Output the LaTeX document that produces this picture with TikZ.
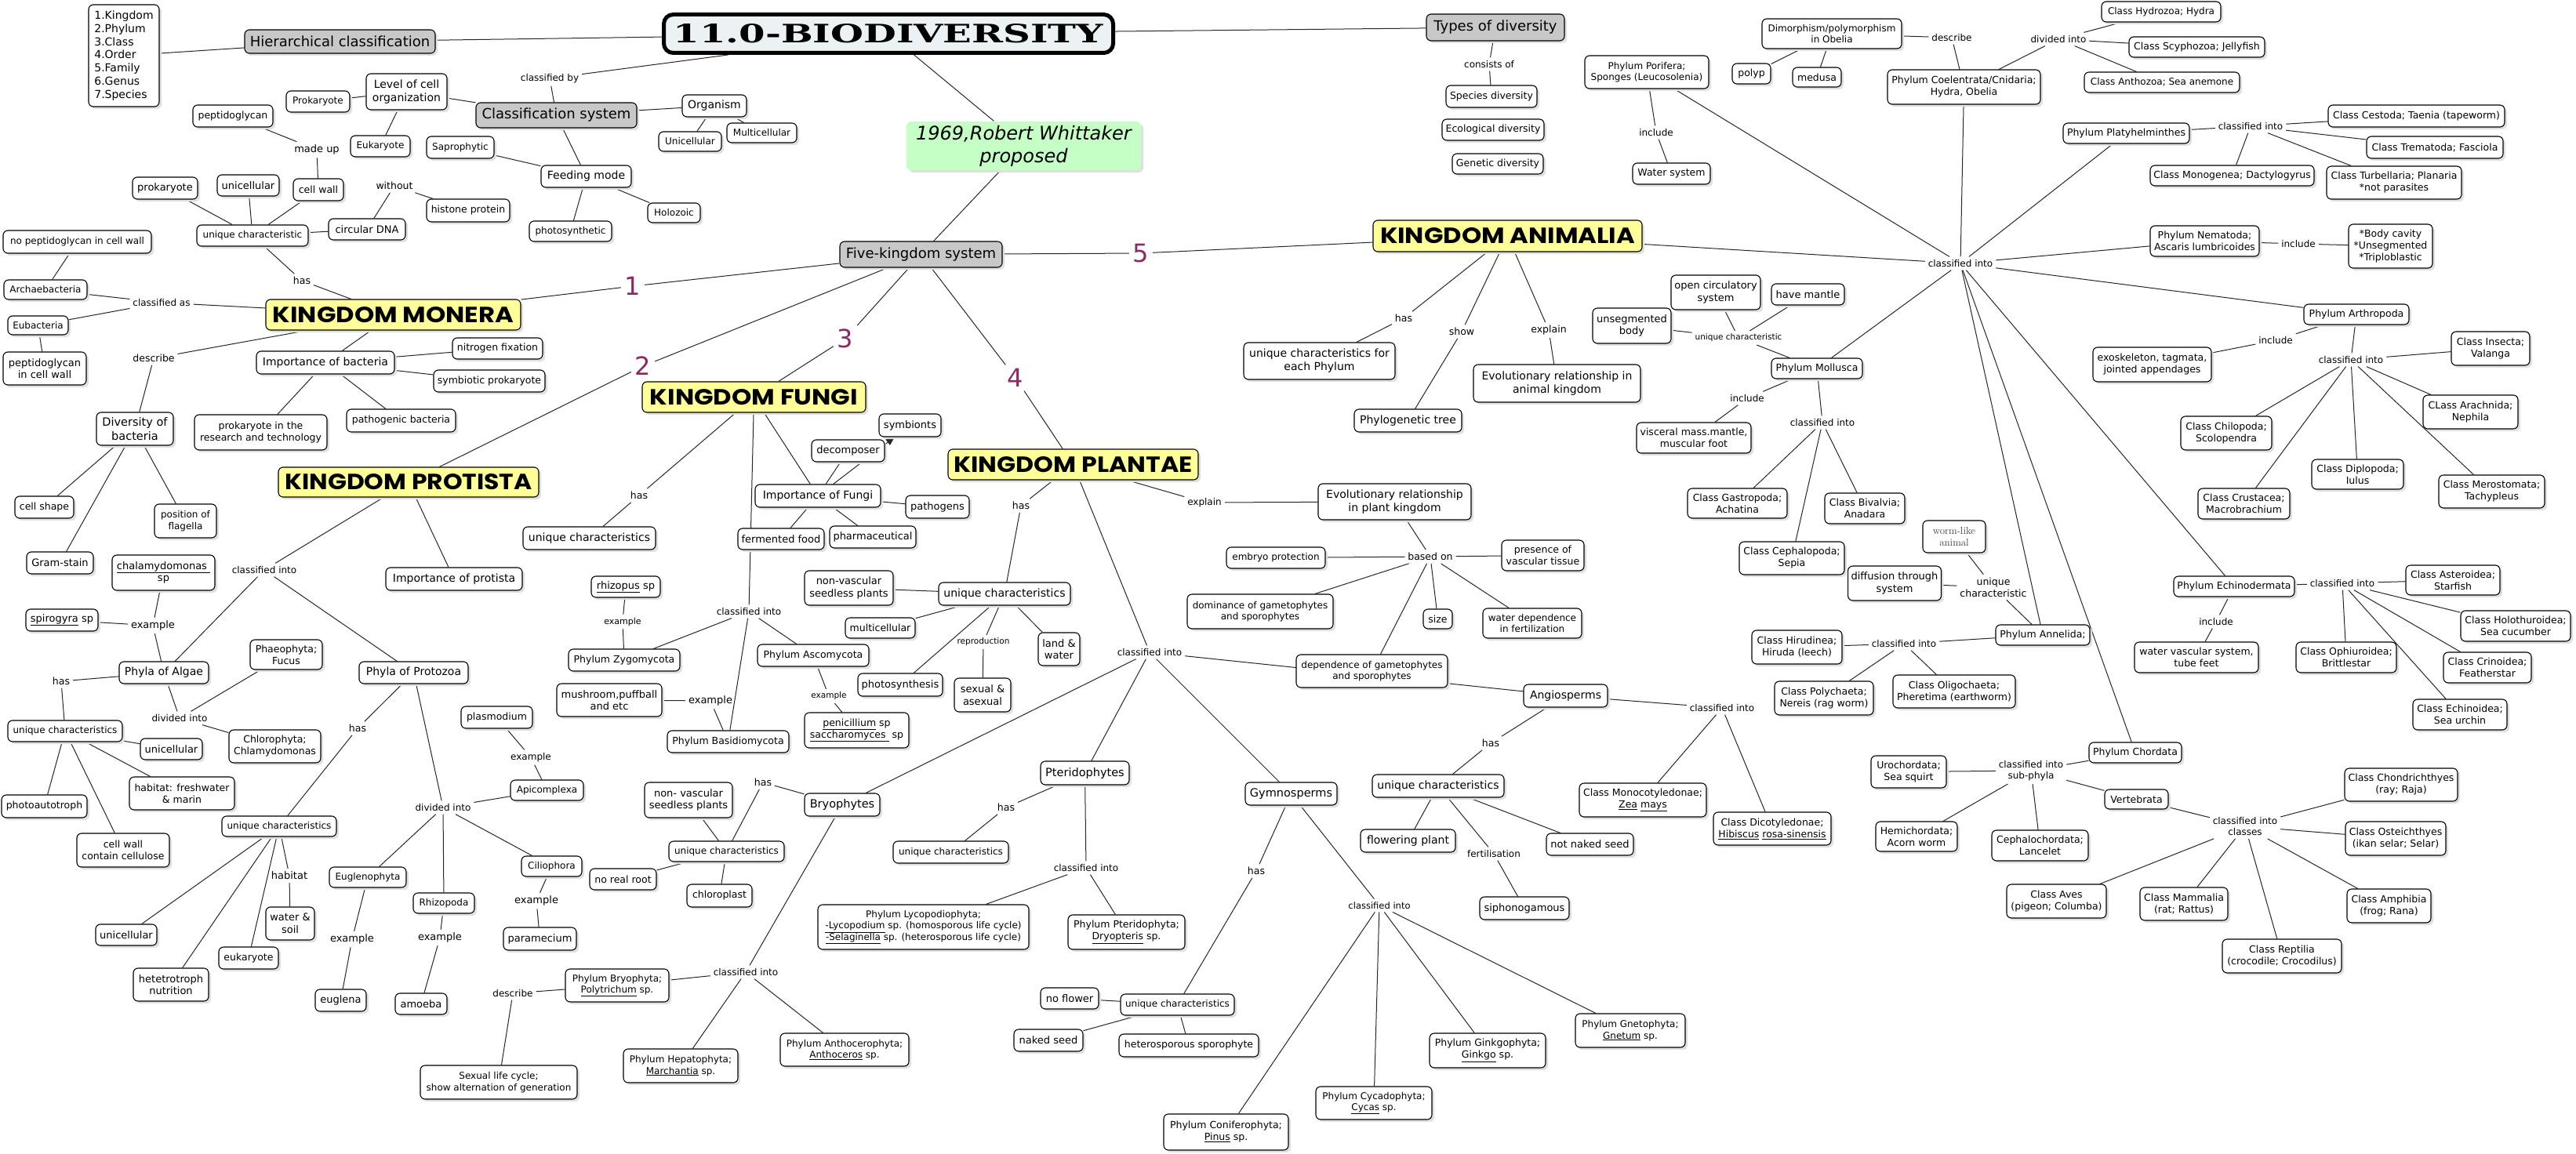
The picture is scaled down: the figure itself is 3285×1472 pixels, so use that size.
\documentclass[tikz,border=0pt]{standalone}
\usepackage{fontspec}
\setmainfont{DejaVu Sans}
\newfontfamily\kfont{Poppins}
\newfontfamily\tfont{DejaVu Serif}
\usetikzlibrary{shadows,backgrounds,arrows.meta}
\definecolor{gbox}{RGB}{200,200,200}
\definecolor{ybox}{RGB}{255,255,153}
\definecolor{grn}{RGB}{198,255,198}
\definecolor{purp}{RGB}{140,40,100}
\definecolor{tbg}{RGB}{236,242,244}
\newcommand\fs[1]{\fontsize{#1}{\fpeval{1.2*#1}}\selectfont}
\newcommand\B[7][]{\node[bx,#1,minimum width={#5-#3},minimum height={#6-#4}] (#2) at ({(#3+#5)/2},{(#4+#6)/2}) {#7};}
\newcommand\Lb[5][]{\node[lb,#1] (#2) at (#3,#4) {#5};}
\newcommand\E[2]{\draw[ed] (#1) -- (#2);}
\tikzset{
 bx/.style={draw=black, line width=1.1pt, rounded corners=6pt, fill=white, align=center, inner xsep=4pt, inner ysep=2pt, font=\fs{13}, drop shadow={shadow xshift=3pt, shadow yshift=-3pt, fill=black!12, opacity=1}},
 lb/.style={inner sep=1pt, outer sep=3pt, align=center, font=\fs{12}},
 ed/.style={draw=black!85, line width=1pt},
 num/.style={text=purp, font=\fs{32}, inner sep=1pt, outer sep=4pt},
 kb/.style={fill=ybox, inner sep=0pt}
}
\begin{document}
\begin{tikzpicture}[x=1pt,y=-1pt]
\useasboundingbox (0,0) rectangle (3285,1472);
% ---------- top ----------
\B[font=\fs{14},align=left]{list}{113}{6}{203}{136}{1.Kingdom\\2.Phylum\\3.Class\\4.Order\\5.Family\\6.Genus\\7.Species}
\B[font=\fs{18},fill=gbox]{hier}{312}{38}{555}{68}{Hierarchical classification}
\node[draw=black, line width=5pt, rounded corners=12pt, fill=tbg, minimum width=573, minimum height=49, inner sep=0pt] (title) at (1133,43) {\resizebox{548pt}{24pt}{\tfont\bfseries 11.0-BIODIVERSITY}};
\B[font=\fs{18},fill=gbox]{types}{1819}{18}{1995}{52}{Types of diversity}
\B[font=\fs{14}]{level}{467}{94}{570}{140}{Level of cell\\organization}
\B[font=\fs{12}]{prokA}{365}{116}{446}{143}{Prokaryote}
\B[font=\fs{12}]{eukA}{447}{173}{523}{200}{Eukaryote}
\B[font=\fs{18},fill=gbox]{clsys}{607}{131}{812}{163}{Classification system}
\B[font=\fs{14}]{organism}{870}{121}{952}{149}{Organism}
\B[font=\fs{12}]{unicA}{840}{168}{920}{193}{Unicellular}
\B[font=\fs{12}]{multA}{927}{157}{1016}{182}{Multicellular}
\B[font=\fs{12}]{sapro}{544}{174}{630}{202}{Saprophytic}
\B[font=\fs{14}]{feeding}{690}{211}{805}{239}{Feeding mode}
\B[font=\fs{12}]{photo}{675}{282}{780}{308}{photosynthetic}
\B[font=\fs{12}]{holo}{826}{259}{893}{284}{Holozoic}
\B[fill=grn,draw=none,font=\fs{24}\itshape,inner sep=1pt]{green}{1156}{155}{1455}{217}{1969,Robert Whittaker\\proposed}
\B[font=\fs{18},fill=gbox]{fivek}{1071}{308}{1278}{341}{Five-kingdom system}
\Lb{lClBy}{701}{100}{classified by}
\B[font=\fs{12.5}]{species}{1844}{109}{1960}{137}{Species diversity}
\B[font=\fs{12.5}]{ecol}{1839}{152}{1969}{179}{Ecological diversity}
\B[font=\fs{12.5}]{genet}{1852}{196}{1968}{222}{Genetic diversity}
\Lb{lCons}{1899}{82}{consists of}
% ---------- monera ----------
\B[font=\fs{12.5}]{pept}{246}{134}{348}{162}{peptidoglycan}
\Lb[font=\fs{13}]{lMade}{404}{191}{made up}
\B[font=\fs{13}]{prokM}{169}{226}{252}{254}{prokaryote}
\B[font=\fs{13}]{unicM}{277}{223}{356}{250}{unicellular}
\B[font=\fs{12.5}]{cwall}{374}{228}{438}{256}{cell wall}
\B[font=\fs{12}]{uniqM}{251}{287}{393}{314}{unique characteristic}
\B[font=\fs{13}]{circ}{419}{279}{517}{306}{circular DNA}
\Lb[font=\fs{12.5}]{lWith}{503}{237}{without}
\B[font=\fs{12.5}]{histone}{544}{254}{650}{283}{histone protein}
\Lb[font=\fs{12.5}]{lHasM}{385}{358}{has}
\B[kb]{monera}{339}{382}{664}{421}{\resizebox{307pt}{20pt}{\kfont\bfseries KINGDOM MONERA}}
\B[font=\fs{12}]{nopept}{4}{294}{193}{323}{no peptidoglycan in cell wall}
\B[font=\fs{12}]{archae}{5}{357}{111}{382}{Archaebacteria}
\B[font=\fs{12}]{eubac}{10}{403}{87}{427}{Eubacteria}
\B[font=\fs{13}]{peptin}{4}{449}{110}{491}{peptidoglycan\\in cell wall}
\Lb{lClAs}{206}{386}{classified as}
\Lb[font=\fs{12.5}]{lDescM}{196}{457}{describe}
\B[font=\fs{14}]{impb}{327}{448}{503}{477}{Importance of bacteria}
\B[font=\fs{12.5}]{nitro}{577}{431}{692}{458}{nitrogen fixation}
\B[font=\fs{12.5}]{symb}{553}{472}{695}{500}{symbiotic prokaryote}
\B[font=\fs{14.5}]{divb}{123}{526}{221}{568}{Diversity of\\bacteria}
\B[font=\fs{12.5}]{prokres}{248}{529}{417}{574}{prokaryote in the\\research and technology}
\B[font=\fs{12.5}]{pathb}{442}{522}{581}{551}{pathogenic bacteria}
\B[font=\fs{12.5}]{cshape}{19}{633}{94}{661}{cell shape}
\B[font=\fs{12}]{posfl}{197}{643}{276}{686}{position of\\flagella}
\B[font=\fs{13}]{gram}{34}{704}{119}{732}{Gram-stain}
\node[num] (n1) at (807,365) {1};
\node[num] (n2) at (820,467) {2};
\node[num] (n3) at (1078,432) {3};
\node[num] (n4) at (1295,482) {4};
\node[num] (n5) at (1455,323) {5};
% ---------- protista ----------
\B[kb]{protista}{355}{596}{687}{634}{\resizebox{315pt}{20pt}{\kfont\bfseries KINGDOM PROTISTA}}
\Lb{lClP}{337}{727}{classified into}
\B[font=\fs{14}]{impp}{492}{724}{666}{753}{Importance of protista}
\B[font=\fs{13}]{chlamy}{143}{708}{274}{753}{\underline{chalamydomonas }\\sp}
\B[font=\fs{13}]{spiro}{33}{777}{125}{805}{\underline{spirogyra} sp}
\Lb[font=\fs{13}]{lExA}{195}{798}{example}
\B[font=\fs{14}]{algae}{152}{844}{266}{872}{Phyla of Algae}
\B[font=\fs{14}]{protoz}{458}{844}{597}{872}{Phyla of Protozoa}
\B[font=\fs{12.5}]{phaeo}{319}{816}{411}{854}{Phaeophyta;\\Fucus}
\B[font=\fs{12.5}]{chloro}{292}{931}{409}{973}{Chlorophyta;\\Chlamydomonas}
\Lb[font=\fs{12.5}]{lHasA}{78}{869}{has}
\Lb{lDivA}{229}{916}{divided into}
\B[font=\fs{12}]{uniqA}{10}{919}{156}{946}{unique characteristics}
\B[font=\fs{13}]{unicAl}{179}{942}{258}{969}{unicellular}
\B[font=\fs{12.5}]{pauto}{2}{1014}{111}{1043}{photoautotroph}
\B[font=\fs{12.5}]{cellcel}{98}{1063}{216}{1106}{cell wall\\contain cellulose}
\B[font=\fs{12.5}]{habfw}{165}{991}{299}{1033}{habitat: freshwater\\\& marin}
\Lb[font=\fs{12.5}]{lHasPz}{456}{929}{has}
\B[font=\fs{12}]{uniqP}{283}{1041}{429}{1067}{unique characteristics}
\B[font=\fs{13}]{unicP}{122}{1179}{200}{1206}{unicellular}
\B[font=\fs{13}]{hetero}{170}{1235}{266}{1277}{hetetrotroph\\nutrition}
\B[font=\fs{12.5}]{eukP}{279}{1208}{355}{1236}{eukaryote}
\Lb[font=\fs{13}]{lHab}{369}{1117}{habitat}
\B[font=\fs{13}]{wsoil}{339}{1157}{401}{1199}{water \&\\soil}
\Lb{lDivPz}{565}{1030}{divided into}
\B[font=\fs{12}]{apic}{651}{995}{744}{1021}{Apicomplexa}
\B[font=\fs{12.5}]{plasmo}{588}{901}{679}{929}{plasmodium}
\Lb{lExPl}{677}{966}{example}
\B[font=\fs{12}]{eugleno}{420}{1106}{518}{1132}{Euglenophyta}
\Lb[font=\fs{13}]{lExEu}{449}{1198}{example}
\B[font=\fs{13}]{euglena}{402}{1262}{467}{1290}{euglena}
\B[font=\fs{12}]{rhizo}{527}{1139}{605}{1165}{Rhizopoda}
\Lb[font=\fs{13}]{lExAm}{561}{1196}{example}
\B[font=\fs{13}]{amoeba}{504}{1267}{570}{1294}{amoeba}
\B[font=\fs{12}]{cilio}{665}{1092}{742}{1118}{Ciliophora}
\Lb[font=\fs{13}]{lExPa}{684}{1149}{example}
\B[font=\fs{13}]{param}{642}{1183}{735}{1212}{paramecium}
% ---------- fungi ----------
\B[kb]{fungi}{819}{487}{1104}{526}{\resizebox{265pt}{20pt}{\kfont\bfseries KINGDOM FUNGI}}
\Lb[font=\fs{12.5}]{lHasF}{815}{632}{has}
\B[font=\fs{14}]{uniqF}{667}{672}{836}{701}{unique characteristics}
\B[font=\fs{14}]{impf}{963}{618}{1123}{647}{Importance of Fungi}
\B[font=\fs{13}]{decomp}{1035}{561}{1128}{589}{decomposer}
\B[font=\fs{13}]{symbio}{1121}{528}{1200}{557}{symbionts}
\B[font=\fs{13}]{pathog}{1155}{632}{1236}{661}{pathogens}
\B[font=\fs{13}]{pharma}{1058}{671}{1168}{699}{pharmaceutical}
\B[font=\fs{13}]{ferm}{941}{674}{1051}{701}{fermented food}
\Lb{lClF}{955}{780}{classified into}
\B[font=\fs{13}]{rhizop}{754}{735}{842}{762}{\underline{rhizopus} sp}
\Lb[font=\fs{11}]{lExZy}{794}{793}{example}
\B[font=\fs{12.5}]{zygo}{725}{828}{867}{856}{Phylum Zygomycota}
\B[font=\fs{13}]{mush}{710}{872}{844}{914}{mushroom,puffball\\and etc}
\Lb[font=\fs{13}]{lExBa}{906}{894}{example}
\B[font=\fs{12.5}]{basid}{851}{932}{1006}{960}{Phylum Basidiomycota}
\B[font=\fs{12.5}]{asco}{966}{822}{1108}{850}{Phylum Ascomycota}
\Lb[font=\fs{10.5}]{lExAs}{1057}{888}{example}
\B[font=\fs{12.5}]{penic}{1026}{909}{1159}{954}{\underline{penicillium} sp\\\underline{saccharomyces } sp}
% ---------- plantae ----------
\B[kb]{plantae}{1209}{573}{1528}{612}{\resizebox{304pt}{20pt}{\kfont\bfseries KINGDOM PLANTAE}}
\Lb[font=\fs{12.5}]{lHasPl}{1302}{645}{has}
\B[font=\fs{14}]{uniqPl}{1197}{743}{1365}{772}{unique characteristics}
\B[font=\fs{13}]{nvPl}{1026}{728}{1139}{772}{non-vascular\\seedless plants}
\B[font=\fs{12.5}]{multPl}{1078}{788}{1167}{814}{multicellular}
\B[font=\fs{13}]{photPl}{1094}{859}{1202}{888}{photosynthesis}
\Lb[font=\fs{10.5}]{lRepro}{1254}{819}{reproduction}
\B[font=\fs{13}]{sexual}{1217}{865}{1289}{908}{sexual \&\\asexual}
\B[font=\fs{13}]{landw}{1324}{807}{1377}{849}{land \&\\water}
\Lb{lExplPl}{1536}{641}{explain}
\B[font=\fs{14}]{evolPl}{1681}{617}{1876}{663}{Evolutionary relationship\\in plant kingdom}
\Lb[font=\fs{12.5}]{lBased}{1824}{710}{based on}
\B[font=\fs{12}]{embryo}{1564}{698}{1690}{725}{embryo protection}
\B[font=\fs{12.5}]{presence}{1915}{689}{2020}{728}{presence of\\vascular tissue}
\B[font=\fs{12}]{dominance}{1514}{758}{1700}{802}{dominance of gametophytes\\and sporophytes}
\B[font=\fs{12.5}]{size}{1815}{777}{1852}{802}{size}
\B[font=\fs{12}]{waterdep}{1891}{776}{2017}{814}{water dependence\\in fertilization}
\B[font=\fs{12}]{depend}{1653}{835}{1846}{877}{dependence of gametophytes\\and sporophytes}
\Lb{lClPl}{1466}{832}{classified into}
\B[font=\fs{14}]{angio}{1943}{873}{2050}{902}{Angiosperms}
\Lb{lClAn}{2196}{903}{classified into}
\B[font=\fs{12.5}]{monocot}{2014}{999}{2176}{1042}{Class Monocotyledonae;\\\underline{Zea} \underline{mays}}
\B[font=\fs{12.5}]{dicot}{2185}{1036}{2335}{1078}{Class Dicotyledonae;\\\underline{Hibiscus} \underline{rosa-sinensis}}
\Lb[font=\fs{12.5}]{lHasAn}{1901}{948}{has}
\B[font=\fs{14}]{uniqAn}{1750}{988}{1918}{1017}{unique characteristics}
\B[font=\fs{14}]{flower}{1735}{1058}{1856}{1087}{flowering plant}
\Lb{lFert}{1905}{1089}{fertilisation}
\B[font=\fs{13}]{notnaked}{1972}{1063}{2083}{1091}{not naked seed}
\B[font=\fs{13}]{siphono}{1887}{1144}{2001}{1173}{siphonogamous}
\B[font=\fs{14.5}]{bryo}{1026}{1012}{1122}{1041}{Bryophytes}
\B[font=\fs{14.5}]{pterid}{1327}{971}{1440}{1001}{Pteridophytes}
\B[font=\fs{14.5}]{gymno}{1588}{998}{1705}{1027}{Gymnosperms}
\Lb[font=\fs{12.5}]{lHasB}{973}{998}{has}
\B[font=\fs{13}]{nvB}{822}{998}{934}{1043}{non- vascular\\seedless plants}
\B[font=\fs{12}]{uniqB}{853}{1073}{1000}{1099}{unique characteristics}
\B[font=\fs{12.5}]{noroot}{752}{1108}{837}{1135}{no real root}
\B[font=\fs{12.5}]{chlpl}{876}{1128}{959}{1157}{chloroplast}
\Lb{lClB}{951}{1240}{classified into}
\B[font=\fs{12}]{bryoph}{721}{1236}{853}{1278}{Phylum Bryophyta;\\\underline{Polytrichum} sp.}
\Lb{lDescB}{654}{1267}{describe}
\B[font=\fs{12}]{sexlife}{536}{1359}{736}{1402}{Sexual life cycle;\\show alternation of generation}
\B[font=\fs{12}]{hepato}{795}{1338}{941}{1381}{Phylum Hepatophyta;\\\underline{Marchantia} sp.}
\B[font=\fs{12}]{anthoc}{995}{1318}{1159}{1360}{Phylum Anthocerophyta;\\\underline{Anthoceros} sp.}
\Lb[font=\fs{12.5}]{lHasPt}{1283}{1030}{has}
\B[font=\fs{12}]{uniqPt}{1139}{1073}{1286}{1101}{unique characteristics}
\Lb{lClPt}{1385}{1107}{classified into}
\B[font=\fs{12}]{lyco}{1043}{1154}{1312}{1211}{Phylum Lycopodiophyta;\\\underline{-Lycopodium} sp. (homosporous life cycle)\\\underline{-Selaginella} sp. (heterosporous life cycle)}
\B[font=\fs{12.5}]{pterida}{1362}{1167}{1511}{1211}{Phylum Pteridophyta;\\\underline{Dryopteris} sp.}
\Lb[font=\fs{12.5}]{lHasGy}{1602}{1111}{has}
\B[font=\fs{12}]{uniqG}{1429}{1268}{1574}{1295}{unique characteristics}
\B[font=\fs{13}]{noflower}{1327}{1260}{1401}{1287}{no flower}
\B[font=\fs{13}]{nakedseed}{1293}{1313}{1381}{1341}{naked seed}
\B[font=\fs{12.5}]{heterosp}{1427}{1319}{1605}{1348}{heterosporous sporophyte}
\Lb[font=\fs{11.5}]{lClGy}{1759}{1155}{classified into}
\B[font=\fs{12.5}]{conifer}{1484}{1421}{1643}{1467}{Phylum Coniferophyta;\\\underline{Pinus} sp.}
\B[font=\fs{12}]{cycad}{1678}{1386}{1826}{1428}{Phylum Cycadophyta;\\\underline{Cycas} sp.}
\B[font=\fs{12.5}]{ginkgo}{1823}{1318}{1971}{1362}{Phylum Ginkgophyta;\\\underline{Ginkgo} sp.}
\B[font=\fs{12}]{gneto}{2009}{1293}{2149}{1336}{Phylum Gnetophyta;\\\underline{Gnetum} sp.}
% ---------- animalia ----------
\B[kb]{animalia}{1751}{281}{2094}{321}{\resizebox{325pt}{20pt}{\kfont\bfseries KINGDOM ANIMALIA}}
\Lb[font=\fs{12.5}]{lHasAni}{1790}{406}{has}
\Lb[font=\fs{12.5}]{lShow}{1864}{423}{show}
\Lb[font=\fs{12.5}]{lExplAn}{1975}{421}{explain}
\B[font=\fs{14}]{uniqEach}{1586}{437}{1779}{484}{unique characteristics for\\each Phylum}
\B[font=\fs{14}]{phylo}{1727}{522}{1864}{551}{Phylogenetic tree}
\B[font=\fs{14}]{evolAn}{1879}{465}{2092}{513}{Evolutionary relationship in\\animal kingdom}
\Lb{lHub}{2500}{336}{classified into}
\B[font=\fs{12}]{porif}{2021}{71}{2179}{113}{Phylum Porifera;\\Sponges (Leucosolenia)}
\Lb{lIncPo}{2112}{169}{include}
\B[font=\fs{12.5}]{wsys}{2082}{208}{2181}{235}{Water system}
\B[font=\fs{12}]{dimorph}{2247}{24}{2425}{62}{Dimorphism/polymorphism\\in Obelia}
\B[font=\fs{12.5}]{polyp}{2209}{81}{2258}{107}{polyp}
\B[font=\fs{12.5}]{medusa}{2286}{86}{2348}{111}{medusa}
\Lb{lDescAn}{2489}{48}{describe}
\B[font=\fs{12.5}]{coel}{2407}{89}{2602}{133}{Phylum Coelentrata/Cnidaria;\\Hydra, Obelia}
\Lb{lDivAn}{2625}{50}{divided into}
\B[font=\fs{12}]{hydro}{2680}{2}{2832}{28}{Class Hydrozoa; Hydra}
\B[font=\fs{12.5}]{scypho}{2715}{47}{2888}{73}{Class Scyphozoa; Jellyfish}
\B[font=\fs{12}]{anthoz}{2658}{92}{2856}{118}{Class Anthozoa; Sea anemone}
\B[font=\fs{12.5}]{platy}{2631}{157}{2792}{183}{Phylum Platyhelminthes}
\Lb{lClPlaty}{2870}{161}{classified into}
\B[font=\fs{12.5}]{cestoda}{2969}{134}{3194}{162}{Class Cestoda; Taenia (tapeworm)}
\B[font=\fs{12.5}]{trema}{3018}{174}{3192}{202}{Class Trematoda; Fasciola}
\B[font=\fs{12.5}]{monog}{2742}{211}{2951}{237}{Class Monogenea; Dactylogyrus}
\B[font=\fs{12.5}]{turb}{2967}{212}{3139}{254}{Class Turbellaria; Planaria\\*not parasites}
\B[font=\fs{12.5}]{nema}{2742}{288}{2881}{327}{Phylum Nematoda;\\Ascaris lumbricoides}
\Lb{lIncNe}{2931}{311}{include}
\B[font=\fs{12.5}]{body}{2995}{286}{3102}{342}{*Body cavity\\*Unsegmented\\*Triploblastic}
\B[font=\fs{12.5}]{arthro}{2938}{388}{3072}{414}{Phylum Arthropoda}
\Lb{lIncAr}{2902}{434}{include}
\B[font=\fs{12.5}]{exo}{2669}{443}{2820}{487}{exoskeleton, tagmata,\\jointed appendages}
\Lb{lClAr}{2998}{459}{classified into}
\B[font=\fs{12.5}]{insecta}{3126}{423}{3226}{466}{Class Insecta;\\Valanga}
\B[font=\fs{12.5}]{chilo}{2781}{531}{2897}{574}{Class Chilopoda;\\Scolopendra}
\B[font=\fs{12.5}]{arach}{3090}{504}{3211}{547}{CLass Arachnida;\\Nephila}
\B[font=\fs{12.5}]{diplo}{2948}{586}{3065}{624}{Class Diplopoda;\\Iulus}
\B[font=\fs{12.5}]{crust}{2803}{623}{2920}{662}{Class Crustacea;\\Macrobrachium}
\B[font=\fs{12.5}]{mero}{3110}{606}{3245}{648}{Class Merostomata;\\Tachypleus}
\B[font=\fs{13}]{unseg}{2031}{393}{2131}{438}{unsegmented\\body}
\B[font=\fs{13}]{openc}{2131}{351}{2245}{395}{open circulatory\\system}
\B[font=\fs{13}]{mantle}{2259}{362}{2352}{389}{have mantle}
\Lb[font=\fs{10.5}]{lUniqMo}{2217}{431}{unique characteristic}
\B[font=\fs{12.5}]{mollusca}{2259}{457}{2375}{483}{Phylum Mollusca}
\Lb{lIncMo}{2228}{508}{include}
\B[font=\fs{12.5}]{visceral}{2087}{539}{2233}{578}{visceral mass.mantle,\\muscular foot}
\Lb{lClMo}{2324}{539}{classified into}
\B[font=\fs{12.5}]{gastro}{2152}{623}{2279}{661}{Class Gastropoda;\\Achatina}
\B[font=\fs{12.5}]{bival}{2327}{629}{2429}{668}{Class Bivalvia;\\Anadara}
\B[font=\fs{12.5}]{cephalo}{2218}{691}{2352}{733}{Class Cephalopoda;\\Sepia}
\B[font=\fs{13}\fontfamily{lmr}\selectfont,text=black!75]{worm}{2452}{664}{2532}{705}{worm-like\\animal}
\B[font=\fs{13}]{diffus}{2357}{722}{2475}{766}{diffusion through\\system}
\Lb[font=\fs{12.5}]{lUniqAnn}{2542}{749}{unique\\characteristic}
\B[font=\fs{12.5}]{annel}{2545}{797}{2665}{823}{Phylum Annelida;}
\Lb{lClAnn}{2428}{821}{classified into}
\B[font=\fs{12.5}]{hirud}{2234}{804}{2349}{847}{Class Hirudinea;\\Hiruda (leech)}
\B[font=\fs{12.5}]{polych}{2263}{869}{2389}{912}{Class Polychaeta;\\Nereis (rag worm)}
\B[font=\fs{12.5}]{oligo}{2414}{861}{2570}{903}{Class Oligochaeta;\\Pheretima (earthworm)}
\B[font=\fs{12.5}]{echino}{2772}{735}{2926}{761}{Phylum Echinodermata}
\Lb{lClEch}{2987}{744}{classified into}
\Lb{lIncEch}{2826}{793}{include}
\B[font=\fs{12.5}]{wvasc}{2722}{819}{2880}{858}{water vascular system,\\tube feet}
\B[font=\fs{12.5}]{aster}{3068}{721}{3188}{759}{Class Asteroidea;\\Starfish}
\B[font=\fs{12.5}]{holot}{3138}{779}{3278}{818}{Class Holothuroidea;\\Sea cucumber}
\B[font=\fs{12.5}]{crino}{3116}{832}{3228}{871}{Class Crinoidea;\\Featherstar}
\B[font=\fs{12.5}]{echinoid}{3077}{892}{3197}{931}{Class Echinoidea;\\Sea urchin}
\B[font=\fs{12.5}]{ophi}{2928}{819}{3056}{858}{Class Ophiuroidea;\\Brittlestar}
\B[font=\fs{12.5}]{chord}{2664}{947}{2782}{973}{Phylum Chordata}
\Lb{lClSub}{2590}{983}{classified into\\sub-phyla}
\B[font=\fs{12.5}]{uro}{2386}{964}{2482}{1005}{Urochordata;\\Sea squirt}
\B[font=\fs{12.5}]{hemi}{2392}{1048}{2496}{1086}{Hemichordata;\\Acorn worm}
\B[font=\fs{12.5}]{cephch}{2540}{1059}{2663}{1098}{Cephalochordata;\\Lancelet}
\B[font=\fs{12.5}]{verte}{2684}{1007}{2765}{1032}{Vertebrata}
\Lb{lClCls}{2863}{1054}{classified into\\classes}
\B[font=\fs{12.5}]{chondr}{2990}{980}{3134}{1022}{Class Chondrichthyes\\(ray; Raja)}
\B[font=\fs{12.5}]{osteo}{2991}{1048}{3119}{1091}{Class Osteichthyes\\(ikan selar; Selar)}
\B[font=\fs{12.5}]{aves}{2559}{1128}{2686}{1171}{Class Aves\\(pigeon; Columba)}
\B[font=\fs{12.5}]{mamm}{2729}{1132}{2841}{1174}{Class Mammalia\\(rat; Rattus)}
\B[font=\fs{12.5}]{rept}{2834}{1198}{2986}{1241}{Class Reptilia\\(crocodile; Crocodilus)}
\B[font=\fs{12.5}]{amph}{2993}{1134}{3100}{1177}{Class Amphibia\\(frog; Rana)}
% ---------- connectors ----------
\begin{pgfonlayer}{background}
\E{list}{hier}\E{hier}{title}\E{title}{lClBy}\E{lClBy}{clsys}\E{title}{green}\E{green}{fivek}\E{title}{types}
\E{types}{lCons}\E{lCons}{species}
\E{level}{prokA}\E{level}{eukA}\E{level}{clsys}\E{clsys}{organism}\E{organism}{unicA}\E{organism}{multA}
\E{clsys}{feeding}\E{sapro}{feeding}\E{feeding}{photo}\E{feeding}{holo}
\E{pept}{lMade}\E{lMade}{cwall}\E{prokM}{uniqM}\E{unicM}{uniqM}\E{cwall}{uniqM}\E{uniqM}{circ}\E{circ}{lWith}\E{lWith}{histone}
\E{uniqM}{lHasM}\E{lHasM}{monera}\E{nopept}{archae}\E{archae}{lClAs}\E{eubac}{lClAs}\E{lClAs}{monera}\E{eubac}{peptin}
\E{monera}{lDescM}\E{lDescM}{divb}\E{monera}{impb}\E{impb}{nitro}\E{impb}{symb}\E{impb}{prokres}\E{impb}{pathb}
\E{divb}{cshape}\E{divb}{gram}\E{divb}{posfl}\E{monera}{n1}\E{n1}{fivek}
\E{fivek}{n2}\E{n2}{protista}\E{fivek}{n3}\E{n3}{fungi}\E{fivek}{n4}\E{n4}{plantae}\E{fivek}{n5}\E{n5}{animalia}
\E{protista}{lClP}\E{lClP}{algae}\E{lClP}{protoz}\E{protista}{impp}
\E{chlamy}{lExA}\E{spiro}{lExA}\E{lExA}{algae}
\E{algae}{lHasA}\E{lHasA}{uniqA}\E{uniqA}{unicAl}\E{uniqA}{pauto}\E{uniqA}{cellcel}\E{uniqA}{habfw}
\E{algae}{lDivA}\E{lDivA}{phaeo}\E{lDivA}{chloro}
\E{protoz}{lHasPz}\E{lHasPz}{uniqP}\E{uniqP}{unicP}\E{uniqP}{hetero}\E{uniqP}{eukP}\E{uniqP}{lHab}\E{lHab}{wsoil}
\E{protoz}{lDivPz}\E{lDivPz}{apic}\E{lDivPz}{eugleno}\E{lDivPz}{rhizo}\E{lDivPz}{cilio}
\E{plasmo}{lExPl}\E{lExPl}{apic}\E{eugleno}{lExEu}\E{lExEu}{euglena}\E{rhizo}{lExAm}\E{lExAm}{amoeba}\E{cilio}{lExPa}\E{lExPa}{param}
\E{fungi}{lHasF}\E{lHasF}{uniqF}\E{fungi}{impf}\E{impf}{decomp}\E{impf}{pathog}\E{impf}{pharma}\E{impf}{ferm}
\draw[ed,-{Triangle[length=11pt,width=9pt]}] (impf) -- (symbio);
\E{fungi}{lClF}\E{lClF}{zygo}\E{lClF}{basid}\E{lClF}{asco}\E{rhizop}{lExZy}\E{lExZy}{zygo}\E{mush}{lExBa}\E{lExBa}{basid}\E{asco}{lExAs}\E{lExAs}{penic}
\E{plantae}{lHasPl}\E{lHasPl}{uniqPl}\E{nvPl}{uniqPl}\E{uniqPl}{multPl}\E{uniqPl}{photPl}\E{uniqPl}{lRepro}\E{lRepro}{sexual}\E{uniqPl}{landw}
\E{plantae}{lExplPl}\E{lExplPl}{evolPl}
\E{evolPl}{lBased}\E{embryo}{lBased}\E{lBased}{presence}\E{lBased}{dominance}\E{lBased}{size}\E{lBased}{waterdep}\E{lBased}{depend}
\E{plantae}{lClPl}\E{lClPl}{bryo}\E{lClPl}{pterid}\E{lClPl}{gymno}\E{lClPl}{angio}
\E{angio}{lClAn}\E{lClAn}{monocot}\E{lClAn}{dicot}\E{angio}{lHasAn}\E{lHasAn}{uniqAn}\E{uniqAn}{flower}\E{uniqAn}{lFert}\E{lFert}{siphono}\E{uniqAn}{notnaked}
\E{gymno}{lClGy}\E{lClGy}{conifer}\E{lClGy}{cycad}\E{lClGy}{ginkgo}\E{lClGy}{gneto}
\E{gymno}{lHasGy}\E{lHasGy}{uniqG}\E{noflower}{uniqG}\E{uniqG}{nakedseed}\E{uniqG}{heterosp}
\E{bryo}{lHasB}\E{lHasB}{uniqB}\E{nvB}{uniqB}\E{uniqB}{noroot}\E{uniqB}{chlpl}
\E{bryo}{lClB}\E{lClB}{bryoph}\E{lClB}{hepato}\E{lClB}{anthoc}\E{bryoph}{lDescB}\E{lDescB}{sexlife}
\E{pterid}{lHasPt}\E{lHasPt}{uniqPt}\E{pterid}{lClPt}\E{lClPt}{lyco}\E{lClPt}{pterida}
\E{animalia}{lHasAni}\E{lHasAni}{uniqEach}\E{animalia}{lShow}\E{lShow}{phylo}\E{animalia}{lExplAn}\E{lExplAn}{evolAn}
\E{animalia}{lHub}\E{porif}{lIncPo}\E{lIncPo}{wsys}\E{porif}{lHub}
\E{dimorph}{polyp}\E{dimorph}{medusa}\E{dimorph}{lDescAn}\E{lDescAn}{coel}
\E{coel}{lDivAn}\E{lDivAn}{hydro}\E{lDivAn}{scypho}\E{lDivAn}{anthoz}\E{coel}{lHub}
\E{platy}{lHub}\E{platy}{lClPlaty}\E{lClPlaty}{cestoda}\E{lClPlaty}{trema}\E{lClPlaty}{monog}\E{lClPlaty}{turb}
\E{lHub}{nema}\E{nema}{lIncNe}\E{lIncNe}{body}
\E{lHub}{arthro}\E{arthro}{lIncAr}\E{lIncAr}{exo}\E{arthro}{lClAr}
\E{lClAr}{insecta}\E{lClAr}{chilo}\E{lClAr}{crust}\E{lClAr}{diplo}\E{lClAr}{mero}\E{lClAr}{arach}
\E{lHub}{mollusca}\E{unseg}{lUniqMo}\E{openc}{lUniqMo}\E{mantle}{lUniqMo}\E{lUniqMo}{mollusca}
\E{mollusca}{lIncMo}\E{lIncMo}{visceral}\E{mollusca}{lClMo}\E{lClMo}{gastro}\E{lClMo}{bival}\E{lClMo}{cephalo}
\E{lHub}{annel}\E{worm}{lUniqAnn}\E{diffus}{lUniqAnn}\E{lUniqAnn}{annel}
\E{annel}{lClAnn}\E{lClAnn}{hirud}\E{lClAnn}{polych}\E{lClAnn}{oligo}
\E{lHub}{echino}\E{echino}{lClEch}\E{lClEch}{aster}\E{lClEch}{holot}\E{lClEch}{crino}\E{lClEch}{echinoid}\E{lClEch}{ophi}
\E{echino}{lIncEch}\E{lIncEch}{wvasc}
\E{lHub}{chord}\E{chord}{lClSub}\E{lClSub}{uro}\E{lClSub}{hemi}\E{lClSub}{cephch}\E{lClSub}{verte}
\E{verte}{lClCls}\E{lClCls}{chondr}\E{lClCls}{osteo}\E{lClCls}{aves}\E{lClCls}{mamm}\E{lClCls}{rept}\E{lClCls}{amph}
\end{pgfonlayer}
\end{tikzpicture}
\end{document}
